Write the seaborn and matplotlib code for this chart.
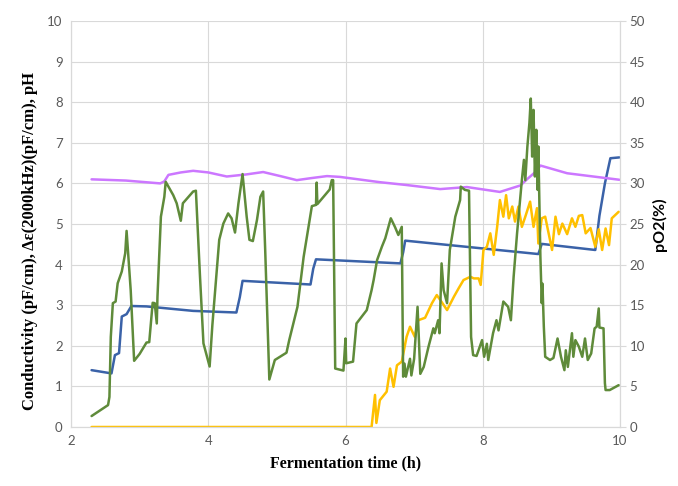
import numpy as np
import pandas as pd
import seaborn as sns
import matplotlib.pyplot as plt

# conductivity (pF/cm)
t_cond = [2.30, 2.59, 2.64, 2.70, 2.74, 2.81, 2.88, 3.10, 3.78, 4.41, 4.46, 4.50,
          5.49, 5.53, 5.57, 6.80, 6.84, 6.87, 8.81, 8.86, 9.64, 9.70, 9.78, 9.86, 9.99]
cond = [1.40, 1.32, 1.77, 1.82, 2.72, 2.78, 2.98, 2.97, 2.86, 2.82, 3.20, 3.60,
        3.51, 3.90, 4.13, 4.03, 4.30, 4.59, 4.26, 4.51, 4.36, 5.20, 6.00, 6.62, 6.64]

# pH
t_ph = [2.30, 2.80, 3.30, 3.36, 3.42, 3.60, 3.78, 4.00, 4.27, 4.55, 4.80, 5.05, 5.29, 5.50,
        5.73, 5.92, 6.50, 6.89, 7.38, 7.77, 8.25, 8.55, 8.65, 8.78, 8.84, 9.23, 9.99]
ph = [6.10, 6.07, 6.00, 6.05, 6.21, 6.27, 6.31, 6.27, 6.17, 6.22, 6.28, 6.18, 6.08, 6.13,
      6.18, 6.16, 6.03, 5.96, 5.86, 5.91, 5.79, 5.95, 6.11, 6.30, 6.44, 6.25, 6.09]

# delta epsilon at 2000 kHz (pF/cm)
t_de = [2.30, 6.38, 6.43, 6.45, 6.50, 6.60, 6.65, 6.70, 6.75, 6.82,
        6.89, 6.94, 7.01, 7.06, 7.16, 7.26, 7.33, 7.38, 7.48, 7.58,
        7.65, 7.72, 7.82, 7.87, 7.94, 7.97, 8.01, 8.06, 8.11, 8.16,
        8.21, 8.25, 8.30, 8.34, 8.38, 8.43, 8.47, 8.52, 8.57, 8.62,
        8.69, 8.74, 8.79, 8.81, 8.86, 8.91, 8.96, 9.01, 9.06, 9.11,
        9.16, 9.23, 9.30, 9.35, 9.40, 9.45, 9.50, 9.57, 9.64, 9.69,
        9.74, 9.79, 9.84, 9.88, 9.98]
de = [0, 0, 0.79, 0.10, 0.66, 0.87, 1.44, 0.99, 1.52, 1.61,
      2.22, 2.47, 2.22, 2.63, 2.69, 3.05, 3.25, 3.13, 2.88, 3.21,
      3.42, 3.62, 3.70, 3.66, 3.66, 3.50, 4.36, 4.44, 4.77, 4.24,
      4.93, 5.59, 5.18, 5.71, 5.14, 5.43, 5.06, 5.43, 4.93, 5.18,
      5.55, 4.93, 5.39, 4.52, 5.14, 5.18, 4.77, 4.36, 5.18, 4.75,
      5.01, 4.75, 5.14, 4.93, 5.20, 5.22, 4.77, 4.90, 4.44, 4.87,
      4.36, 4.89, 4.48, 5.14, 5.30]

# pO2 (%)
t_po2 = [2.30, 2.54, 2.56, 2.58, 2.61, 2.65, 2.68, 2.74, 2.79, 2.81,
         2.83, 2.87, 2.92, 3.00, 3.10, 3.14, 3.19, 3.22, 3.25, 3.26,
         3.31, 3.36, 3.38, 3.49, 3.54, 3.60, 3.63, 3.78, 3.82, 3.88,
         3.93, 4.02, 4.06, 4.16, 4.22, 4.29, 4.34, 4.39, 4.44, 4.50,
         4.56, 4.60, 4.65, 4.71, 4.76, 4.80, 4.83, 4.89, 4.97, 5.14,
         5.18, 5.30, 5.39, 5.51, 5.57, 5.58, 5.59, 5.77, 5.80, 5.82,
         5.85, 5.97, 6.00, 6.01, 6.11, 6.16, 6.31, 6.38, 6.41, 6.46,
         6.53, 6.58, 6.66, 6.72, 6.77, 6.82, 6.84, 6.86, 6.88, 6.94,
         6.96, 7.00, 7.05, 7.09, 7.14, 7.21, 7.28, 7.30, 7.35, 7.37,
         7.40, 7.43, 7.48, 7.52, 7.60, 7.67, 7.68, 7.74, 7.80, 7.83,
         7.86, 7.91, 7.99, 8.02, 8.06, 8.08, 8.15, 8.20, 8.23, 8.30,
         8.37, 8.41, 8.45, 8.50, 8.57, 8.60, 8.62, 8.65, 8.68, 8.70,
         8.72, 8.74, 8.76, 8.78, 8.80, 8.81, 8.84, 8.86, 8.87, 8.89,
         8.91, 8.98, 9.03, 9.09, 9.14, 9.19, 9.21, 9.24, 9.30, 9.32,
         9.35, 9.40, 9.45, 9.49, 9.53, 9.58, 9.63, 9.66, 9.69, 9.70,
         9.76, 9.78, 9.79, 9.85, 9.98]
po2 = [1.35, 2.7, 3.7, 11.1, 15.25, 15.45, 17.7, 19.15, 21.4, 24.15,
       21.75, 16.85, 8.15, 9.0, 10.4, 10.45, 15.3, 15.25, 12.75, 16.05,
       25.9, 28.35, 30.2, 28.55, 27.55, 25.4, 27.55, 29.0, 29.1, 18.5,
       10.3, 7.45, 12.55, 23.05, 25.05, 26.3, 25.7, 23.95, 27.55, 31.15,
       25.9, 23.05, 22.9, 25.5, 28.35, 29.0, 21.75, 5.85, 8.25, 9.15,
       10.7, 14.8, 20.95, 27.2, 27.35, 30.1, 27.45, 29.25, 30.4, 30.4,
       7.2, 6.95, 10.9, 7.85, 8.05, 12.75, 14.4, 16.85, 18.1, 20.55,
       22.2, 23.25, 25.7, 24.65, 23.65, 24.65, 6.2, 7.8, 6.2, 8.4,
       6.35, 8.4, 14.8, 6.55, 7.4, 9.9, 12.15, 11.55, 13.15, 11.55,
       20.15, 16.85, 15.25, 21.8, 25.9, 27.95, 29.6, 29.2, 29.1, 11.1,
       8.85, 8.75, 10.7, 8.65, 10.25, 8.25, 11.55, 13.15, 11.9, 15.45,
       14.8, 13.15, 18.5, 23.85, 30.4, 32.9, 30.4, 34.5, 37.45, 40.45,
       33.3, 39.05, 30.85, 36.6, 29.2, 34.55, 20.95, 15.25, 17.65, 12.35,
       8.65, 8.25, 8.5, 10.9, 8.65, 7.0, 9.45, 7.4, 11.55, 8.65,
       10.7, 9.9, 8.65, 10.9, 8.25, 9.05, 12.15, 12.35, 14.6, 12.25,
       12.15, 5.4, 4.55, 4.55, 5.15]

sns.set_style("whitegrid", {"grid.color": "#d9d9d9", "axes.edgecolor": "#d9d9d9"})
plt.rcParams["font.family"] = ["Lato", "DejaVu Sans"]

fig = plt.figure(figsize=(6.78, 4.86), dpi=100)
ax = fig.add_axes([71 / 678, 1 - 427 / 486, 549 / 678, 406 / 486])
ax2 = ax.twinx()

lw = 1.8
sns.lineplot(x=t_cond, y=cond, ax=ax, color="#3a62a8", lw=lw, estimator=None, sort=False)
sns.lineplot(x=t_ph, y=ph, ax=ax, color="#cc77ff", lw=lw, estimator=None, sort=False)
sns.lineplot(x=t_de, y=de, ax=ax, color="#ffc000", lw=lw, estimator=None, sort=False)
sns.lineplot(x=t_po2, y=po2, ax=ax2, color="#5f8b3a", lw=lw, estimator=None, sort=False)

ax.set_xlim(2, 10)
ax.set_ylim(0, 10)
ax2.set_ylim(0, 50)
ax.set_xticks([2, 4, 6, 8, 10])
ax.set_yticks(range(0, 11))
ax2.set_yticks(range(0, 51, 5))
ax2.grid(False)
ax.grid(True, color="#d9d9d9", lw=0.8)

for a in (ax, ax2):
    a.spines["top"].set_visible(False)
    a.tick_params(colors="#595959", labelsize=9.5, length=0, pad=6)
ax2.tick_params(axis="y", length=4, color="#d9d9d9", pad=3)
ax2.spines["right"].set_color("#d9d9d9")

ax.set_xlabel("Fermentation time (h)", family="Liberation Serif", fontweight="bold",
              fontsize=11.5, color="black", labelpad=6)
ax.set_ylabel("Conductivity (pF/cm), \u0394\u03b5(2000kHz)(pF/cm), pH", family="Liberation Serif",
              fontweight="bold", fontsize=12, color="black")
ax.yaxis.set_label_coords(-0.06, 0.458)
ax2.set_ylabel("pO2(%)", fontweight="bold", fontsize=11.5, color="black", labelpad=5)

fig.savefig("out.png", dpi=100)
